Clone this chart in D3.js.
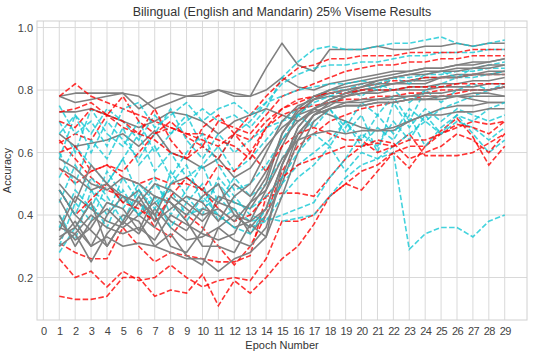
<!DOCTYPE html>
<html>
<head>
<meta charset="utf-8">
<script src="https://cdn.jsdelivr.net/npm/d3@7.9.0/dist/d3.min.js"></script>
<style>
  html, body { margin: 0; padding: 0; background: #fff; }
  svg { display: block; font-family: "Liberation Sans", Arial, sans-serif; }
</style>
</head>
<body>
<div id="chart"></div>
<script>
// epochs 1..29, x ticks 0..29
const epochs = d3.range(1, 30);
const xTicks = d3.range(0, 30);
const yTicks = [0.2, 0.4, 0.6, 0.8, 1.0];

// solid gray runs
const grayRuns = [
  [0.78,0.79,0.79,0.79,0.79,0.74,0.77,0.79,0.78,0.78,0.80,0.79,0.78,0.87,0.95,0.88,0.86,0.93,0.93,0.93,0.94,0.93,0.93,0.94,0.94,0.95,0.94,0.95,0.95],
  [0.78,0.76,0.77,0.78,0.79,0.78,0.74,0.76,0.78,0.79,0.80,0.78,0.78,0.80,0.84,0.81,0.80,0.82,0.83,0.84,0.85,0.86,0.86,0.87,0.87,0.88,0.88,0.89,0.90],
  [0.73,0.73,0.74,0.72,0.70,0.68,0.70,0.73,0.72,0.70,0.66,0.70,0.72,0.74,0.72,0.70,0.73,0.75,0.78,0.80,0.81,0.82,0.82,0.82,0.84,0.84,0.85,0.85,0.86],
  [0.66,0.62,0.63,0.64,0.66,0.62,0.67,0.60,0.58,0.55,0.58,0.52,0.55,0.62,0.68,0.72,0.74,0.72,0.70,0.68,0.67,0.67,0.70,0.72,0.74,0.75,0.75,0.76,0.76],
  [0.35,0.46,0.42,0.38,0.36,0.40,0.44,0.38,0.35,0.42,0.40,0.36,0.38,0.48,0.62,0.72,0.77,0.80,0.82,0.83,0.84,0.85,0.86,0.87,0.87,0.88,0.89,0.89,0.90],
  [0.48,0.40,0.35,0.30,0.38,0.34,0.42,0.36,0.32,0.33,0.36,0.40,0.36,0.42,0.56,0.68,0.74,0.77,0.79,0.80,0.81,0.82,0.83,0.84,0.84,0.85,0.85,0.86,0.86],
  [0.32,0.38,0.30,0.40,0.46,0.40,0.36,0.46,0.42,0.38,0.44,0.42,0.34,0.40,0.50,0.64,0.72,0.76,0.78,0.79,0.80,0.80,0.81,0.81,0.82,0.82,0.83,0.83,0.84],
  [0.40,0.30,0.38,0.42,0.37,0.44,0.40,0.30,0.28,0.35,0.46,0.44,0.42,0.50,0.66,0.73,0.77,0.78,0.78,0.79,0.79,0.80,0.80,0.80,0.81,0.81,0.81,0.82,0.82],
  [0.36,0.34,0.25,0.34,0.40,0.38,0.30,0.34,0.27,0.24,0.36,0.32,0.30,0.36,0.52,0.66,0.72,0.74,0.75,0.75,0.76,0.76,0.77,0.77,0.77,0.78,0.78,0.78,0.78],
  [0.50,0.44,0.56,0.50,0.44,0.48,0.40,0.50,0.52,0.48,0.44,0.50,0.46,0.54,0.64,0.70,0.74,0.76,0.76,0.76,0.77,0.77,0.78,0.78,0.78,0.78,0.77,0.76,0.76],
  [0.33,0.36,0.30,0.33,0.30,0.31,0.30,0.28,0.26,0.26,0.22,0.26,0.28,0.33,0.46,0.60,0.70,0.74,0.76,0.77,0.77,0.78,0.78,0.79,0.79,0.80,0.80,0.80,0.81],
  [0.55,0.52,0.48,0.50,0.46,0.44,0.50,0.48,0.44,0.40,0.42,0.38,0.44,0.48,0.58,0.64,0.66,0.67,0.66,0.67,0.67,0.68,0.70,0.72,0.72,0.73,0.73,0.74,0.74],
  [0.30,0.34,0.40,0.36,0.34,0.36,0.32,0.40,0.37,0.34,0.32,0.34,0.44,0.52,0.66,0.74,0.78,0.80,0.81,0.82,0.83,0.84,0.85,0.85,0.86,0.86,0.87,0.87,0.88],
  [0.45,0.36,0.44,0.30,0.38,0.46,0.38,0.42,0.46,0.44,0.38,0.46,0.50,0.60,0.70,0.75,0.77,0.79,0.80,0.81,0.82,0.82,0.83,0.83,0.84,0.84,0.85,0.85,0.85],
  [0.58,0.55,0.50,0.48,0.52,0.50,0.46,0.44,0.40,0.46,0.50,0.40,0.38,0.42,0.56,0.66,0.72,0.74,0.75,0.75,0.76,0.76,0.77,0.77,0.78,0.78,0.79,0.79,0.78],
  [0.38,0.32,0.36,0.44,0.42,0.35,0.46,0.44,0.38,0.30,0.30,0.28,0.37,0.33,0.56,0.68,0.74,0.77,0.79,0.81,0.83,0.84,0.85,0.86,0.86,0.87,0.87,0.88,0.88]
];

// red dashed runs
const redRuns = [
  [0.14,0.13,0.13,0.14,0.20,0.20,0.14,0.16,0.15,0.21,0.11,0.19,0.15,0.20,0.26,0.30,0.37,0.46,0.50,0.48,0.54,0.60,0.55,0.62,0.67,0.71,0.65,0.56,0.62],
  [0.26,0.20,0.22,0.17,0.22,0.19,0.20,0.24,0.20,0.17,0.19,0.20,0.19,0.26,0.38,0.38,0.40,0.46,0.50,0.54,0.56,0.60,0.62,0.62,0.66,0.68,0.70,0.69,0.70],
  [0.31,0.28,0.26,0.26,0.36,0.30,0.25,0.28,0.27,0.26,0.25,0.25,0.27,0.46,0.47,0.47,0.46,0.52,0.58,0.62,0.63,0.62,0.66,0.59,0.59,0.59,0.60,0.63,0.66],
  [0.64,0.58,0.52,0.48,0.46,0.44,0.36,0.33,0.40,0.36,0.30,0.24,0.30,0.40,0.54,0.62,0.66,0.70,0.72,0.74,0.75,0.76,0.77,0.78,0.78,0.79,0.80,0.80,0.81],
  [0.78,0.82,0.78,0.76,0.74,0.72,0.70,0.68,0.66,0.64,0.62,0.66,0.72,0.78,0.83,0.87,0.88,0.90,0.90,0.91,0.91,0.91,0.92,0.92,0.92,0.92,0.93,0.93,0.93],
  [0.73,0.74,0.76,0.72,0.78,0.70,0.66,0.70,0.65,0.62,0.70,0.68,0.66,0.72,0.78,0.80,0.82,0.84,0.86,0.87,0.88,0.88,0.89,0.89,0.90,0.90,0.91,0.91,0.91],
  [0.63,0.66,0.64,0.72,0.70,0.66,0.64,0.60,0.58,0.62,0.58,0.66,0.64,0.70,0.74,0.76,0.78,0.79,0.80,0.81,0.82,0.83,0.83,0.84,0.84,0.84,0.85,0.85,0.85],
  [0.60,0.62,0.54,0.56,0.52,0.50,0.52,0.50,0.50,0.48,0.56,0.54,0.60,0.68,0.72,0.74,0.75,0.76,0.77,0.77,0.78,0.78,0.79,0.79,0.80,0.80,0.80,0.80,0.81],
  [0.55,0.50,0.54,0.56,0.54,0.60,0.66,0.68,0.66,0.66,0.64,0.62,0.58,0.68,0.74,0.77,0.78,0.79,0.79,0.80,0.80,0.80,0.81,0.81,0.81,0.82,0.82,0.82,0.82],
  [0.70,0.68,0.74,0.72,0.68,0.66,0.74,0.64,0.58,0.68,0.72,0.66,0.60,0.54,0.62,0.66,0.68,0.66,0.64,0.64,0.60,0.62,0.64,0.64,0.66,0.69,0.68,0.66,0.70],
  [0.48,0.40,0.45,0.50,0.44,0.42,0.38,0.46,0.52,0.48,0.42,0.38,0.40,0.46,0.52,0.56,0.58,0.60,0.62,0.62,0.64,0.63,0.58,0.60,0.62,0.66,0.64,0.60,0.66]
];

// cyan dashed runs
const cyanRuns = [
  [0.40,0.32,0.48,0.44,0.42,0.50,0.44,0.48,0.40,0.42,0.46,0.40,0.36,0.38,0.46,0.52,0.56,0.62,0.54,0.60,0.58,0.60,0.29,0.34,0.36,0.36,0.33,0.38,0.40],
  [0.58,0.72,0.66,0.74,0.70,0.64,0.72,0.66,0.70,0.74,0.70,0.72,0.68,0.74,0.84,0.89,0.93,0.94,0.93,0.93,0.94,0.95,0.95,0.96,0.97,0.95,0.94,0.95,0.96],
  [0.70,0.60,0.74,0.66,0.62,0.70,0.60,0.66,0.72,0.62,0.58,0.66,0.70,0.76,0.82,0.85,0.87,0.88,0.88,0.89,0.89,0.90,0.91,0.91,0.92,0.92,0.92,0.93,0.93],
  [0.52,0.62,0.56,0.50,0.58,0.66,0.54,0.60,0.52,0.56,0.62,0.54,0.58,0.64,0.70,0.74,0.78,0.80,0.80,0.78,0.82,0.80,0.76,0.80,0.82,0.84,0.84,0.85,0.86],
  [0.30,0.44,0.38,0.50,0.58,0.46,0.52,0.40,0.48,0.56,0.44,0.52,0.46,0.50,0.58,0.66,0.70,0.74,0.68,0.76,0.72,0.78,0.70,0.80,0.76,0.80,0.82,0.80,0.82],
  [0.44,0.56,0.48,0.40,0.52,0.44,0.38,0.54,0.46,0.40,0.52,0.46,0.40,0.38,0.40,0.42,0.44,0.52,0.58,0.66,0.62,0.70,0.64,0.72,0.66,0.70,0.68,0.64,0.68],
  [0.28,0.36,0.44,0.36,0.48,0.40,0.46,0.36,0.44,0.50,0.38,0.42,0.38,0.39,0.38,0.39,0.40,0.46,0.52,0.56,0.58,0.62,0.66,0.70,0.74,0.76,0.78,0.80,0.81],
  [0.66,0.72,0.60,0.70,0.64,0.58,0.66,0.74,0.64,0.58,0.66,0.60,0.64,0.68,0.70,0.72,0.68,0.74,0.66,0.72,0.60,0.76,0.68,0.74,0.70,0.74,0.72,0.70,0.72],
  [0.36,0.48,0.42,0.54,0.46,0.40,0.50,0.44,0.38,0.46,0.40,0.36,0.34,0.42,0.50,0.56,0.60,0.64,0.70,0.62,0.68,0.64,0.72,0.62,0.68,0.72,0.66,0.60,0.64],
  [0.60,0.50,0.64,0.58,0.68,0.56,0.62,0.52,0.60,0.66,0.56,0.48,0.50,0.56,0.64,0.72,0.76,0.78,0.80,0.82,0.80,0.84,0.82,0.85,0.86,0.84,0.87,0.88,0.89],
  [0.48,0.40,0.52,0.46,0.38,0.48,0.42,0.50,0.56,0.44,0.50,0.44,0.42,0.46,0.52,0.60,0.66,0.62,0.70,0.64,0.72,0.66,0.74,0.70,0.66,0.72,0.70,0.74,0.76],
  [0.75,0.66,0.70,0.62,0.74,0.76,0.68,0.72,0.76,0.70,0.74,0.76,0.72,0.76,0.78,0.80,0.81,0.82,0.82,0.83,0.82,0.84,0.84,0.85,0.85,0.86,0.86,0.87,0.87]
];

const width = 538, height = 355;
const margin = { top: 21, right: 11, bottom: 35, left: 37 };

const svg = d3.select('#chart').append('svg')
  .attr('width', width)
  .attr('height', height);

const x = d3.scaleLinear()
  .domain([-0.4, 30.4])
  .range([margin.left, width - margin.right]);

const y = d3.scaleLinear()
  .domain([0.064, 1.021])
  .range([height - margin.bottom, margin.top]);

/* grid ---------------------------------------------------------- */
const grid = svg.append('g').attr('stroke', '#d9d9d9').attr('stroke-width', 1);
grid.selectAll('.vx').data(xTicks).join('line')
  .attr('x1', d => x(d)).attr('x2', d => x(d))
  .attr('y1', margin.top).attr('y2', height - margin.bottom);
grid.selectAll('.hy').data(yTicks).join('line')
  .attr('y1', d => y(d)).attr('y2', d => y(d))
  .attr('x1', margin.left).attr('x2', width - margin.right);

svg.append('rect')
  .attr('x', margin.left).attr('y', margin.top)
  .attr('width', width - margin.left - margin.right)
  .attr('height', height - margin.top - margin.bottom)
  .attr('fill', 'none').attr('stroke', '#d0d0d0').attr('stroke-width', 1);

/* lines ---------------------------------------------------------- */
const line = d3.line()
  .x((d, i) => x(epochs[i]))
  .y(d => y(d));

svg.append('clipPath').attr('id', 'clip').append('rect')
  .attr('x', margin.left).attr('y', margin.top)
  .attr('width', width - margin.left - margin.right)
  .attr('height', height - margin.top - margin.bottom);

const plot = svg.append('g').attr('clip-path', 'url(#clip)').attr('fill', 'none');
const n = Math.max(grayRuns.length, redRuns.length, cyanRuns.length);
for (let i = 0; i < n; i++) {
  if (grayRuns[i]) plot.append('path').attr('d', line(grayRuns[i]))
    .attr('stroke', '#808080').attr('stroke-width', 1.6).attr('stroke-linejoin', 'round');
  if (redRuns[i]) plot.append('path').attr('d', line(redRuns[i]))
    .attr('stroke', '#ff0000').attr('stroke-opacity', 0.8).attr('stroke-width', 1.6)
    .attr('stroke-dasharray', '5.5,2.4');
  if (cyanRuns[i]) plot.append('path').attr('d', line(cyanRuns[i]))
    .attr('stroke', '#14c8d4').attr('stroke-opacity', 0.8).attr('stroke-width', 1.6)
    .attr('stroke-dasharray', '5.5,2.4');
}

/* axes ----------------------------------------------------------- */
const xAxis = svg.append('g')
  .attr('transform', `translate(0,${height - margin.bottom})`)
  .call(d3.axisBottom(x).tickValues(xTicks).tickSize(0).tickPadding(7).tickFormat(d3.format('d')));
xAxis.select('.domain').remove();
xAxis.selectAll('text').attr('fill', '#444').attr('font-size', 11)
  .style('font-family', '"Liberation Sans", Arial, sans-serif')
  .attr('letter-spacing', -0.6);

const yAxis = svg.append('g')
  .attr('transform', `translate(${margin.left},0)`)
  .call(d3.axisLeft(y).tickValues(yTicks).tickSize(0).tickPadding(4).tickFormat(d3.format('.1f')));
yAxis.select('.domain').remove();
yAxis.selectAll('text').attr('fill', '#444').attr('font-size', 11)
  .style('font-family', '"Liberation Sans", Arial, sans-serif');

svg.append('text')
  .attr('x', (margin.left + width - margin.right) / 2)
  .attr('y', 349)
  .attr('text-anchor', 'middle')
  .attr('font-size', 11).attr('fill', '#333')
  .text('Epoch Number');

svg.append('text')
  .attr('transform', `translate(11,${(margin.top + height - margin.bottom) / 2}) rotate(-90)`)
  .attr('text-anchor', 'middle')
  .attr('font-size', 11).attr('fill', '#333')
  .text('Accuracy');

svg.append('text')
  .attr('x', (margin.left + width - margin.right) / 2)
  .attr('y', 16)
  .attr('text-anchor', 'middle')
  .attr('font-size', 12.5).attr('fill', '#333')
  .text('Bilingual (English and Mandarin) 25% Viseme Results');
</script>
</body>
</html>
